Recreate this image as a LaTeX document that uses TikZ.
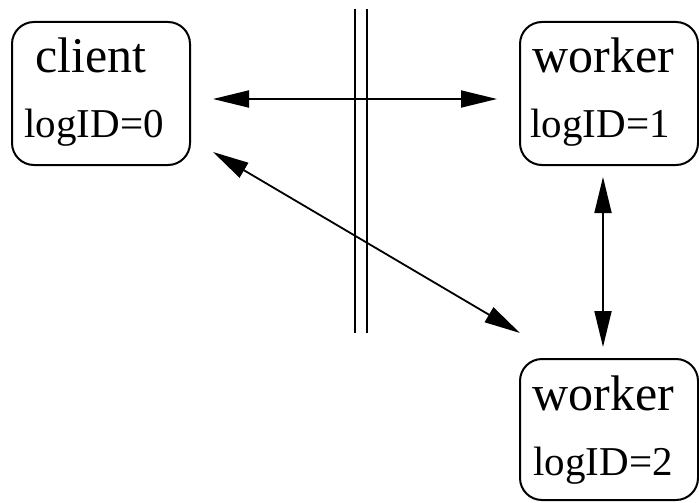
\documentclass[tikz,border=0pt]{standalone}
\usepackage{fontspec}
\setmainfont{Liberation Serif}
\usetikzlibrary{arrows.meta}
\begin{document}
\begin{tikzpicture}[x=1pt,y=-1pt,
  proc/.style={draw,line width=2pt,rounded corners=22pt,minimum width=178pt,inner sep=0pt},
  title/.style={anchor=base,inner sep=0pt,font=\fontsize{50}{50}\selectfont},
  ident/.style={anchor=base,inner sep=0pt,font=\fontsize{41}{41}\selectfont},
  link/.style={line width=1.8pt,{Triangle[length=36pt,width=17pt]}-{Triangle[length=36pt,width=17pt]}},
  wall/.style={line width=1.7pt}]
\useasboundingbox (0,0) rectangle (699,503);

% processes
\node[proc,minimum height=143pt] (client) at (101,93.5) {};
\node[proc,minimum height=143pt] (w1) at (609,93.5) {};
\node[proc,minimum height=141pt] (w2) at (609,429.5) {};

\node[title] (clientname) at (91,73) {client};
\node[ident] (clientid) at (94,137) {logID=0};
\node[title] (w1name) at (603.5,73) {worker};
\node[ident] (w1id) at (600,137) {logID=1};
\node[title] (w2name) at (603.5,410) {worker};
\node[ident] (w2id) at (603,475) {logID=2};

% partition between the client and the workers
\coordinate (wallAtop) at (355,9);
\coordinate (wallAbot) at (355,333);
\coordinate (wallBtop) at (367,9);
\coordinate (wallBbot) at (367,333);
\draw[wall] (wallAtop) -- (wallAbot);
\draw[wall] (wallBtop) -- (wallBbot);

% message channels
\coordinate (c-h) at (213,99);
\coordinate (w1-h) at (497,99);
\coordinate (c-d) at (213,152);
\coordinate (w2-d) at (520,333);
\coordinate (w1-v) at (603,177);
\coordinate (w2-v) at (603,347);
\draw[link] (c-h) -- (w1-h);
\draw[link] (c-d) -- (w2-d);
\draw[link] (w1-v) -- (w2-v);
\end{tikzpicture}
\end{document}
